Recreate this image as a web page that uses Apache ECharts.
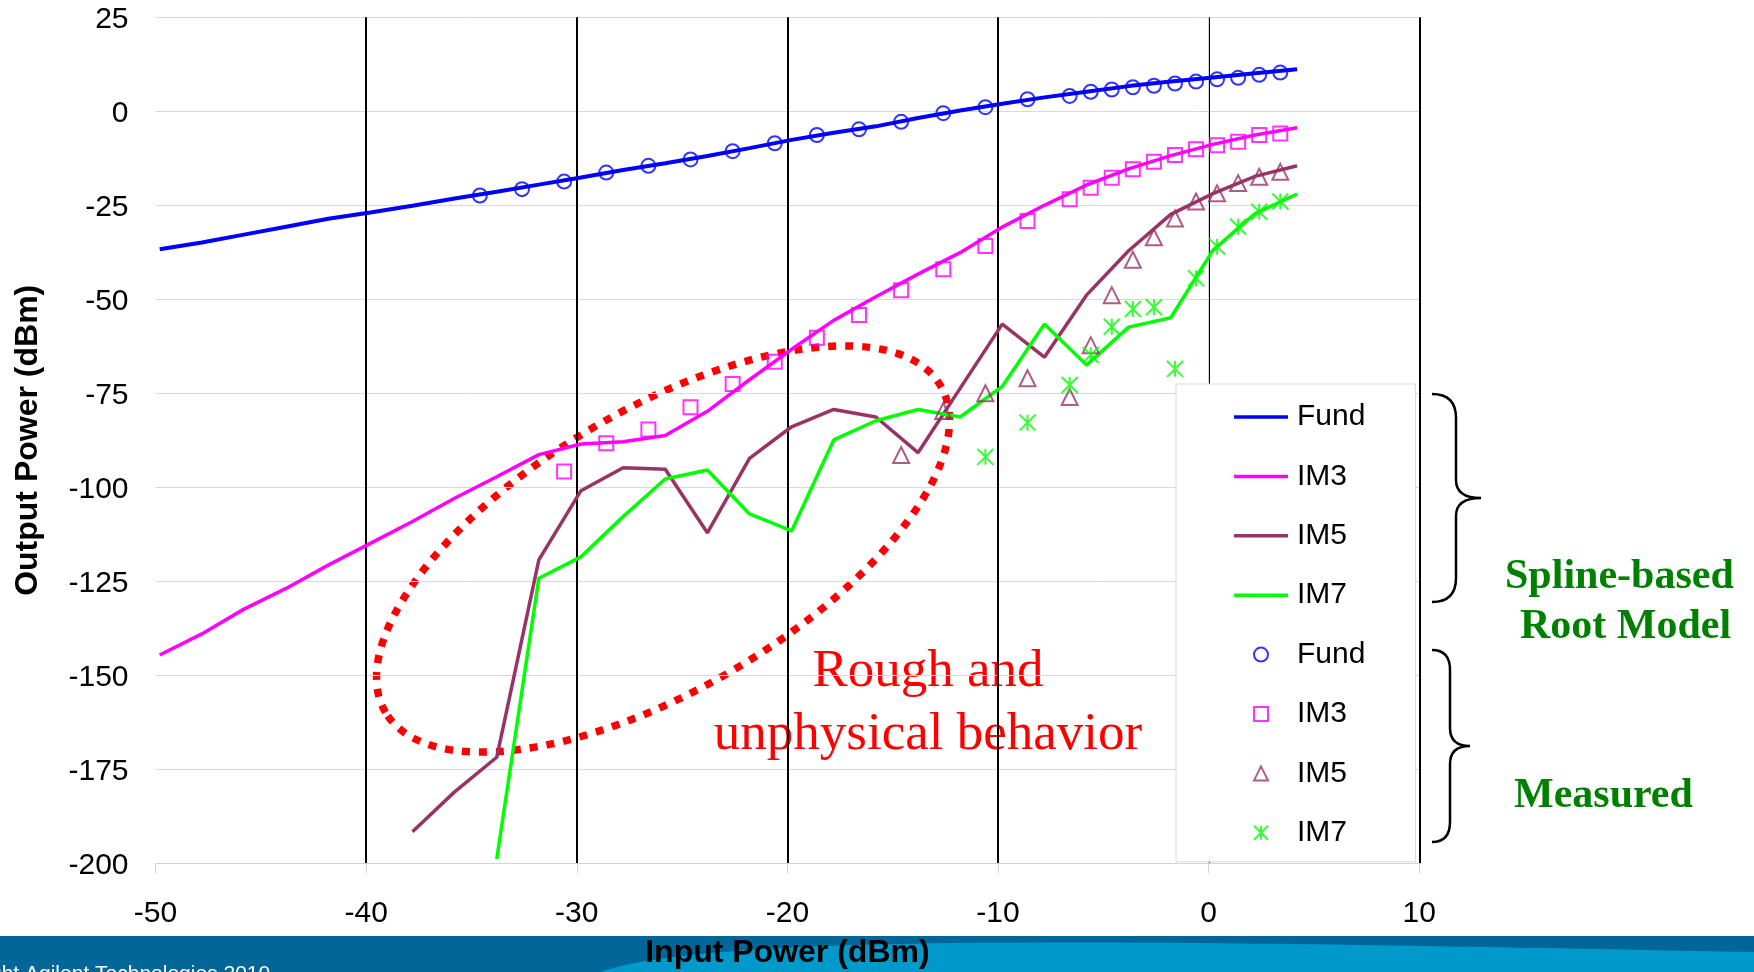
<!DOCTYPE html>
<html>
<head>
<meta charset="utf-8">
<script src="https://cdn.jsdelivr.net/npm/echarts@6/dist/echarts.min.js"></script>
<style>
  html, body { margin: 0; padding: 0; background: #fff; }
  #chart { width: 1754px; height: 972px; }
</style>
</head>
<body>
<div id="chart"></div>
<script>
// Input power points where the spline-based root model is evaluated (dBm)
const modelInput = [-49.8, -47.8, -45.8, -43.8, -41.8, -39.8, -37.8, -35.8, -33.8, -31.8,
  -29.8, -27.8, -25.8, -23.8, -21.8, -19.8, -17.8, -15.8, -13.8, -11.8,
  -9.8, -7.8, -5.8, -3.8, -1.8, 0.2, 2.2, 4.2];

// Model output power (dBm)
const fundModel = [-36.7, -34.9, -32.8, -30.7, -28.6, -26.9, -25.1, -23.2, -21.4, -19.5,
  -17.6, -15.6, -13.8, -11.9, -9.8, -7.6, -5.7, -4.0, -1.8, 0.2,
  2.0, 3.7, 5.2, 6.7, 7.9, 9.0, 10.1, 11.2];
const im3Model = [-144.6, -139.0, -132.4, -126.9, -120.7, -114.9, -109.1, -102.9, -97.2, -91.3,
  -88.5, -87.9, -86.2, -79.8, -71.4, -63.3, -55.6, -49.3, -43.3, -37.6,
  -30.8, -25.0, -19.6, -15.3, -11.8, -8.8, -6.3, -4.4];
const im5Model = [null, null, null, null, null, null, -191.6, -181.0, -171.8, -119.3,
  -100.9, -94.8, -95.2, -112.1, -92.3, -83.9, -79.3, -81.3, -90.8, -73.7,
  -56.6, -65.4, -48.9, -37.1, -27.4, -21.9, -17.3, -14.5];
const im7Model = [null, null, null, null, null, null, null, null, -198.9, -124.2,
  -118.5, -107.8, -97.8, -95.4, -107.1, -111.6, -87.4, -82.3, -79.3, -81.3,
  -73.2, -56.6, -67.5, -57.4, -54.9, -37.0, -27.2, -22.0];

// Measured input power sweep (dBm)
const measuredInput = [-34.6, -32.6, -30.6, -28.6, -26.6, -24.6, -22.6, -20.6, -18.6, -16.6,
  -14.6, -12.6, -10.6, -8.6, -6.6, -5.6, -4.6, -3.6, -2.6, -1.6,
  -0.6, 0.4, 1.4, 2.4, 3.4];

// Measured output power (dBm)
const fundMeasured = [-22.4, -20.7, -18.7, -16.3, -14.5, -12.8, -10.6, -8.5, -6.3, -4.8,
  -2.8, -0.5, 1.1, 3.2, 4.1, 5.2, 5.8, 6.4, 6.8, 7.4,
  7.9, 8.5, 8.9, 9.7, 10.3];
const im3Measured = [null, null, -95.8, -88.3, -84.6, -78.7, -72.5, -66.6, -60.2, -54.2,
  -47.6, -42.0, -35.8, -29.2, -23.4, -20.3, -17.7, -15.4, -13.4, -11.6,
  -10.1, -9.0, -8.1, -6.3, -5.9];
const im5Measured = [null, null, null, null, null, null, null, null, null, null,
  -91.4, -79.7, -75.0, -71.0, -76.0, -62.2, -48.9, -39.5, -33.5, -28.5,
  -24.0, -21.8, -19.1, -17.4, -16.1];
const im7Measured = [null, null, null, null, null, null, null, null, null, null,
  null, null, -91.9, -82.8, -72.8, -64.8, -57.3, -52.6, -52.1, -68.5,
  -44.4, -36.0, -30.7, -26.7, -24.0];

// Axis ranges and tick steps
const xRange = { min: -50, max: 10, step: 10 };
const yRange = { min: -200, max: 25, step: 25 };

const harmonicNames = ['Fund', 'IM3', 'IM5', 'IM7'];
const harmonicColors = ['#0000ff', '#ff00ff', '#993366', '#00ff00'];
const MEAS_SUFFIX = ' (measured)';

function toPairs(xs, ys) {
  const out = [];
  xs.forEach((x, i) => { if (ys[i] !== null && ys[i] !== undefined) out.push([x, ys[i]]); });
  return out;
}

const SANS = 'Liberation Sans, Arial, sans-serif';
const SERIF = 'Liberation Serif, Times New Roman, serif';

// Free-form outlines used by the graphic layer
echarts.graphic.registerShape('footerWave', echarts.graphic.extendPath(
  'M600,972 C650,955 750,946 950,943 C1150,941 1350,944 1754,952 L1754,972 Z'));
echarts.graphic.registerShape('braceModel', echarts.graphic.extendPath(
  'M1432,394 Q1456,394 1456,418 L1456,480 Q1456,498 1481,498 Q1456,498 1456,516 L1456,578 Q1456,602 1432,602'));
echarts.graphic.registerShape('braceMeasured', echarts.graphic.extendPath(
  'M1432,650 Q1450,650 1450,670 L1450,728 Q1450,746 1470,746 Q1450,746 1450,764 L1450,822 Q1450,842 1432,842'));

const modelSets = [fundModel, im3Model, im5Model, im7Model];
const measuredSets = [fundMeasured, im3Measured, im5Measured, im7Measured];
const markerShapes = [
  'circle',
  'rect',
  'triangle',
  'path://M0,0L16,16M16,0L0,16M8,0L8,16'
];
const markerSizes = [14, 14, 16, 16];
// square legend glyphs for the measured markers
const legendMarkerIcons = [
  'circle',
  'path://M0,0L12,0L12,12L0,12Z',
  'path://M6,0L12,12L0,12Z',
  'path://M0,0L16,16M16,0L0,16M8,0L8,16'
];
const legendLineIcon = 'path://M0,0L54,0L54,3.5L0,3.5Z';

const series = [];
modelSets.forEach((ys, i) => {
  series.push({
    name: harmonicNames[i],
    type: 'line',
    data: toPairs(modelInput, ys),
    symbol: 'none',
    showSymbol: false,
    smooth: false,
    lineStyle: { color: harmonicColors[i], width: i === 0 ? 4 : 3.5 },
    itemStyle: { color: harmonicColors[i] },
    z: 2
  });
});
measuredSets.forEach((ys, i) => {
  series.push({
    name: harmonicNames[i] + MEAS_SUFFIX,
    type: 'scatter',
    data: toPairs(measuredInput, ys),
    symbol: markerShapes[i],
    symbolSize: markerSizes[i],
    itemStyle: { color: 'rgba(0,0,0,0)', borderColor: harmonicColors[i], borderWidth: 2 },
    z: 3
  });
});

const legendData = harmonicNames.map((n, i) => ({
  name: n, icon: legendLineIcon,
  itemStyle: { color: harmonicColors[i], borderWidth: 0 }
})).concat(harmonicNames.map((n, i) => ({
  name: n + MEAS_SUFFIX, icon: legendMarkerIcons[i],
  itemStyle: { color: 'rgba(0,0,0,0)', borderColor: harmonicColors[i], borderWidth: 2 }
})));

const chart = echarts.init(document.getElementById('chart'), null, { renderer: 'canvas' });

chart.setOption({
  animation: false,
  backgroundColor: '#ffffff',
  grid: { left: 155.5, right: 334.7, top: 17.3, bottom: 108.7, outerBoundsMode: 'none' },
  xAxis: {
    type: 'value',
    min: xRange.min, max: xRange.max, interval: xRange.step,
    name: 'Input Power (dBm)',
    nameLocation: 'middle',
    nameGap: 74,
    nameTextStyle: { color: '#000', fontSize: 32, fontWeight: 'bold', fontFamily: SANS },
    axisLine: { show: true, onZero: false, lineStyle: { color: '#d4d4d4', width: 1 } },
    axisTick: { show: true, inside: false, length: 10, lineStyle: { color: '#d4d4d4', width: 1 } },
    axisLabel: { color: '#000', fontSize: 30, fontFamily: SANS, margin: 35 },
    splitLine: { show: true, showMinLine: false, lineStyle: { color: '#000', width: 2 } }
  },
  yAxis: {
    type: 'value',
    min: yRange.min, max: yRange.max, interval: yRange.step,
    name: 'Output Power (dBm)',
    nameLocation: 'middle',
    nameGap: 111,
    nameTextStyle: { color: '#000', fontSize: 32, fontWeight: 'bold', fontFamily: SANS },
    axisLine: { show: true, lineStyle: { color: '#d4d4d4', width: 1 } },
    axisTick: { show: true, inside: false, length: 10, lineStyle: { color: '#d4d4d4', width: 1 } },
    axisLabel: { color: '#000', fontSize: 30, fontFamily: SANS, margin: 27, verticalAlign: 'top', lineHeight: 5 },
    splitLine: { show: true, lineStyle: { color: '#d9d9d9', width: 1 } }
  },
  legend: {
    show: true,
    orient: 'vertical',
    left: 1176,
    top: 384,
    padding: [18, 50, 14, 58],
    itemGap: 29.4,
    itemWidth: 54,
    itemHeight: 14,
    symbolKeepAspect: true,
    selectedMode: false,
    backgroundColor: '#ffffff',
    borderColor: '#d9d9d9',
    borderWidth: 1,
    data: legendData,
    formatter: name => name.replace(MEAS_SUFFIX, ''),
    textStyle: { color: '#000', fontSize: 30, fontFamily: SANS, lineHeight: 30, padding: [0, 0, 0, 4] }
  },
  series: series,
  graphic: [
    // slide footer band
    { type: 'rect', z: -1, shape: { x: 0, y: 936, width: 1754, height: 36 }, style: { fill: '#026699' } },
    { type: 'footerWave', z: -1, style: { fill: '#0099cc' } },
    { type: 'text', z: -1, x: -92, y: 964,
      style: { text: '\u00a9 Copyright Agilent Technologies 2010', fill: '#ffffff', font: '21px ' + SANS, verticalAlign: 'top' } },
    // dotted outline around the low-power region
    { type: 'ellipse', x: 663, y: 549, rotation: 0.532,
      shape: { cx: 0, cy: 0, rx: 322, ry: 140 },
      style: { fill: 'rgba(0,0,0,0)', stroke: '#ff0000', lineWidth: 7.5, lineDash: [8, 9] } },
    { type: 'text', x: 928, y: 672,
      style: { text: 'Rough and', fill: '#ff0000', font: '53px ' + SERIF, align: 'center', verticalAlign: 'middle' } },
    { type: 'text', x: 928, y: 735,
      style: { text: 'unphysical behavior', fill: '#ff0000', font: '53px ' + SERIF, align: 'center', verticalAlign: 'middle' } },
    // braces grouping the legend entries
    { type: 'braceModel', style: { fill: 'none', stroke: '#000', lineWidth: 2.5 } },
    { type: 'braceMeasured', style: { fill: 'none', stroke: '#000', lineWidth: 2.5 } },
    { type: 'text', x: 1505, y: 577,
      style: { text: 'Spline-based', fill: '#008000', font: 'bold 42px ' + SERIF, align: 'left', verticalAlign: 'middle' } },
    { type: 'text', x: 1520, y: 627,
      style: { text: 'Root Model', fill: '#008000', font: 'bold 42px ' + SERIF, align: 'left', verticalAlign: 'middle' } },
    { type: 'text', x: 1514, y: 796,
      style: { text: 'Measured', fill: '#008000', font: 'bold 42px ' + SERIF, align: 'left', verticalAlign: 'middle' } }
  ]
});
</script>
</body>
</html>
